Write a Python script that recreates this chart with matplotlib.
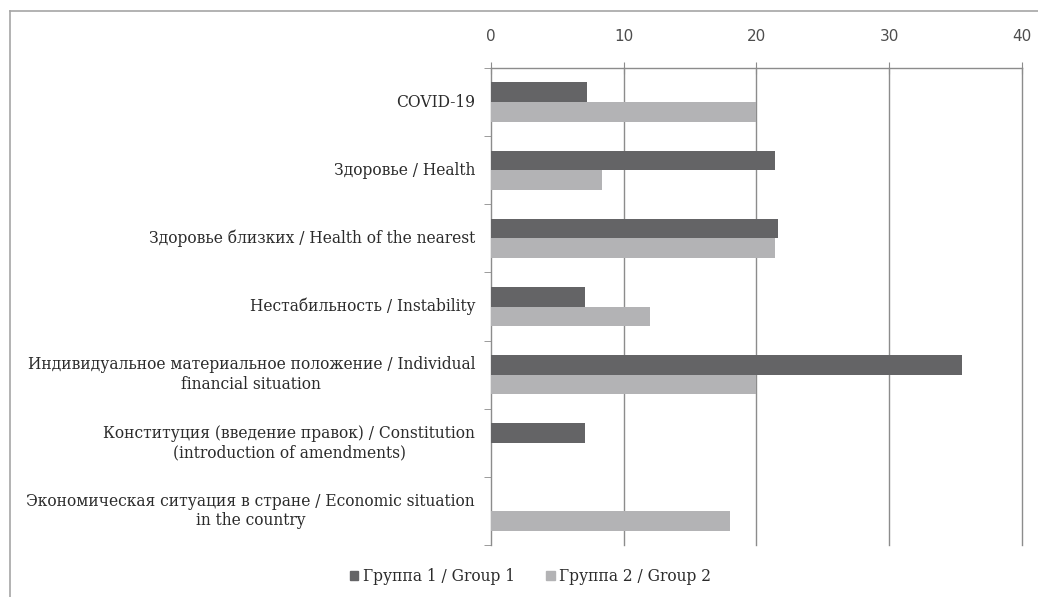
import numpy as np
import matplotlib.pyplot as plt
from matplotlib.lines import Line2D

categories = [
    'COVID-19',
    'Здоровье / Health',
    'Здоровье близких / Health of the nearest',
    'Нестабильность / Instability',
    'Индивидуальное материальное положение / Individual\nfinancial situation',
    'Конституция (введение правок) / Constitution\n(introduction of amendments)',
    'Экономическая ситуация в стране / Economic situation\nin the country',
]
group1 = [7.2, 21.4, 21.6, 7.1, 35.5, 7.1, 0]
group2 = [20, 8.4, 21.4, 12, 20, 0, 18]
series_names = ['Группа 1 / Group 1', 'Группа 2 / Group 2']
xticks = [0, 10, 20, 30, 40]

dark = '#646466'
light = '#b3b3b5'
axis_grey = '#8c8c8c'
text_col = '#2b2b2b'

fig = plt.figure(figsize=(10.38, 5.97), dpi=100)
ax = fig.add_axes([0.473, 0.087, 0.5115, 0.799])

y = np.arange(len(categories))
h = 0.29
ax.barh(y - h / 2, group1, height=h, color=dark, label=series_names[0], zorder=3)
ax.barh(y + h / 2, group2, height=h, color=light, label=series_names[1], zorder=3)

ax.set_xlim(0, 40)
ax.set_ylim(len(categories) - 0.5, -0.5)
ax.xaxis.tick_top()
ax.set_xticks(xticks)
ax.tick_params(axis='x', direction='inout', length=8, color=axis_grey, pad=13,
               labelsize=11, labelcolor='#4d4d4d')
for lbl in ax.get_xticklabels():
    lbl.set_family('DejaVu Sans')
# vertical gridlines, unclipped so the one at 40 shows in full
for xv in xticks[1:]:
    ax.axvline(xv, color=axis_grey, linewidth=1, zorder=0, clip_on=False)

# category labels sit between boundary ticks on the left spine
ax.set_yticks(y)
ax.set_yticklabels([])
ax.set_yticks(np.arange(len(categories) + 1) - 0.5, minor=True)
ax.tick_params(axis='y', which='major', length=0)
ax.tick_params(axis='y', which='minor', length=5, color=axis_grey)
for yi, name in zip(y, categories):
    ax.text(-0.03, yi, name, transform=ax.get_yaxis_transform(),
            ha='right', va='center', multialignment='center',
            family='DejaVu Serif', fontsize=11.2, color=text_col,
            linespacing=1.2)

for side in ['right', 'bottom']:
    ax.spines[side].set_visible(False)
for side in ['top', 'left']:
    ax.spines[side].set_color(axis_grey)
    ax.spines[side].set_linewidth(1)

handles = [plt.Rectangle((0, 0), 1, 1, color=dark),
           plt.Rectangle((0, 0), 1, 1, color=light)]
leg = fig.legend(handles, series_names, loc='center', bbox_to_anchor=(0.511, 0.034),
                 ncol=2, frameon=False, handlelength=0.55, handleheight=0.55,
                 handletextpad=0.3, columnspacing=2.0,
                 prop={'family': 'DejaVu Serif', 'size': 11.2})
for t in leg.get_texts():
    t.set_color(text_col)

# outer frame of the chart box
fig.add_artist(Line2D([0.0097, 0.0097], [0, 0.982], color='#a6a6a6', lw=1.2,
                      transform=fig.transFigure))
fig.add_artist(Line2D([0.0097, 1], [0.982, 0.982], color='#a6a6a6', lw=1.2,
                      transform=fig.transFigure))

fig.savefig('out.png', dpi=100)
